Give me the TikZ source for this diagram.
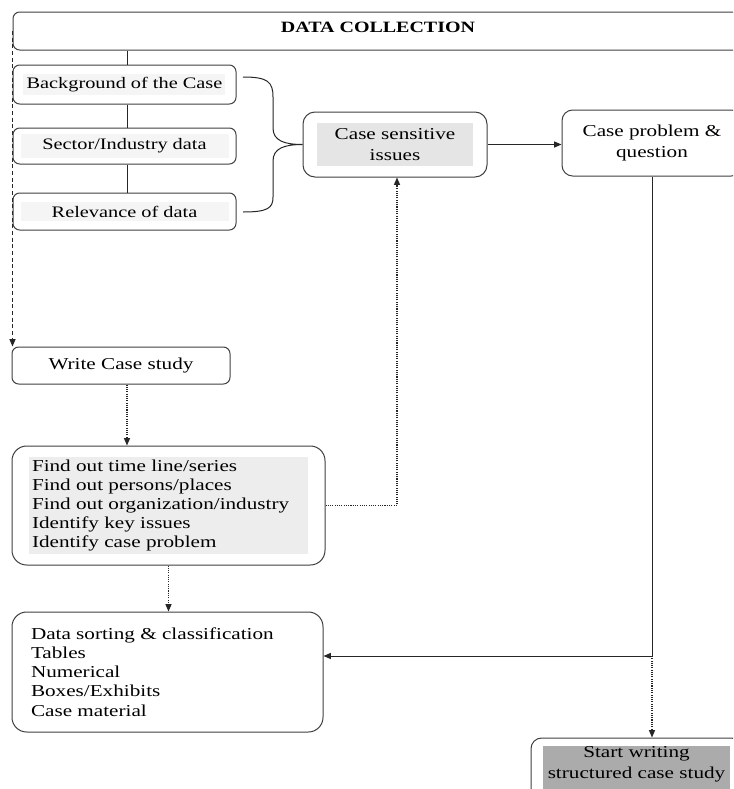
\documentclass[tikz,border=0pt]{standalone}
\usepackage{fontspec}
\setmainfont{Liberation Serif}[FakeStretch=1.27]
\usetikzlibrary{arrows.meta}
\newdimen\unitpx
\unitpx=0.75pt
\newcommand{\patch}[5][c]{{\setlength{\fboxsep}{0pt}\colorbox{#2}{\parbox[c][#4][#1]{#3}{#5}}}}

\begin{document}
\begin{tikzpicture}[x=0.75pt, y=-0.75pt,
        box/.style={draw=black!75, line width=0.75pt, rounded corners=5pt, inner sep=0pt, font=\fontsize{12.5}{16}\selectfont},
        line/.style={draw=black!85, line width=0.75pt},
        arrow/.style={line, -{Triangle[length=5.5pt, width=4.5pt]}},
        dotarrow/.style={arrow, line width=0.9pt, dash pattern=on 0.8pt off 0.9pt},
        dasharrow/.style={arrow, dash pattern=on 3pt off 2pt}]
        \useasboundingbox (0,0) rectangle (733,789);
        \fill[white] (0,0) rectangle (733,789);
        \clip (0,0) rectangle (733,789);
        \node[box, minimum width=732*\unitpx, minimum height=38*\unitpx] (data-collection) at (379,31) {};
        \node[font=\bfseries\fontsize{11.8}{13}\selectfont] (data-collection-title) at (378,27) {DATA COLLECTION};
        \node[box, minimum width=223*\unitpx, minimum height=39*\unitpx, font=\fontsize{12}{14}\selectfont] (background) at (124.5,84.5) {\patch{black!4}{202\unitpx}{21\unitpx}{\centering Background of the Case}};
        \node[box, minimum width=223*\unitpx, minimum height=36*\unitpx, font=\fontsize{12}{14}\selectfont] (sector) at (124.5,146) {\patch{black!4}{208\unitpx}{24\unitpx}{\centering Sector/Industry data}};
        \node[box, minimum width=223*\unitpx, minimum height=37*\unitpx, font=\fontsize{12}{14}\selectfont] (relevance) at (124.5,211.5) {\patch{black!4}{208\unitpx}{19\unitpx}{\centering Relevance of data}};
        \node[box, rounded corners=9pt, minimum width=184*\unitpx, minimum height=65*\unitpx] (case-sensitive) at (395,144.5) {\patch{black!10}{156\unitpx}{43\unitpx}{\centering Case sensitive\\ issues}};
        \node[box, rounded corners=8pt, minimum width=180*\unitpx, minimum height=66*\unitpx, align=center] (case-problem) at (652,143) {Case problem \&\\ question};
        \node[box, minimum width=218*\unitpx, minimum height=37*\unitpx] (write-case) at (121,365.5) {Write Case study};
        \node[box, rounded corners=11pt, minimum width=313*\unitpx, minimum height=119*\unitpx, font=\fontsize{12.5}{14.4}\selectfont] (find-out) at (168.5,505.5) {\patch{black!7}{279\unitpx}{97\unitpx}{\leftskip=3\unitpx Find out time line/series\\ Find out persons/places\\ Find out organization/industry\\ Identify key issues\\ Identify case problem}};
        \node[box, rounded corners=11pt, minimum width=311*\unitpx, minimum height=120*\unitpx, font=\fontsize{12.5}{14.4}\selectfont] (data-sorting) at (167.5,672) {\patch{white}{279\unitpx}{97\unitpx}{\leftskip=3\unitpx Data sorting \& classification\\ Tables\\ Numerical\\ Boxes/Exhibits\\ Case material}};
        \node[box, rounded corners=8pt, minimum width=211*\unitpx, minimum height=80*\unitpx] (start-writing) at (636.5,778) {\patch[t]{black!33}{187\unitpx}{64\unitpx}{\centering Start writing\\ structured case study}};
        \coordinate (brace-top) at (243,77);
        \coordinate (brace-bottom) at (243,212);
        \coordinate (turn) at (652,656);
        \draw[line] ([xshift=2.5*\unitpx]background.north) -- ([xshift=2.5*\unitpx]background.north |- data-collection.south);
        \draw[line] ([xshift=2.5*\unitpx]background.south) -- ([xshift=2.5*\unitpx]sector.north);
        \draw[line] ([xshift=2.5*\unitpx]sector.south) -- ([xshift=2.5*\unitpx]relevance.north);
        \draw[line] (brace-top) .. controls (268,77) and (273,82) .. (273,97) -- (273,128) .. controls (273,141) and (285,144.5) .. (case-sensitive.west) .. controls (285,144.5) and (273,148) .. (273,161) -- (273,197) .. controls (273,208) and (268,212) .. (brace-bottom);
        \draw[arrow] (case-sensitive.east) -- (case-sensitive.east -| case-problem.west);
        \draw[dasharrow] (data-collection.west) -- (data-collection.west |- write-case.north);
        \draw[dotarrow] ([xshift=6*\unitpx]write-case.south) -- ([xshift=6*\unitpx]write-case.south |- find-out.north);
        \draw[dotarrow] (find-out.east) -| ([xshift=2*\unitpx]case-sensitive.south);
        \draw[dotarrow] (find-out.south) -- (find-out.south |- data-sorting.north);
        \draw[line] (case-problem.south) -- (turn);
        \draw[arrow] (turn) -- (turn -| data-sorting.east);
        \draw[dotarrow] (turn) -- (turn |- start-writing.north);
    \end{tikzpicture}
\end{document}
